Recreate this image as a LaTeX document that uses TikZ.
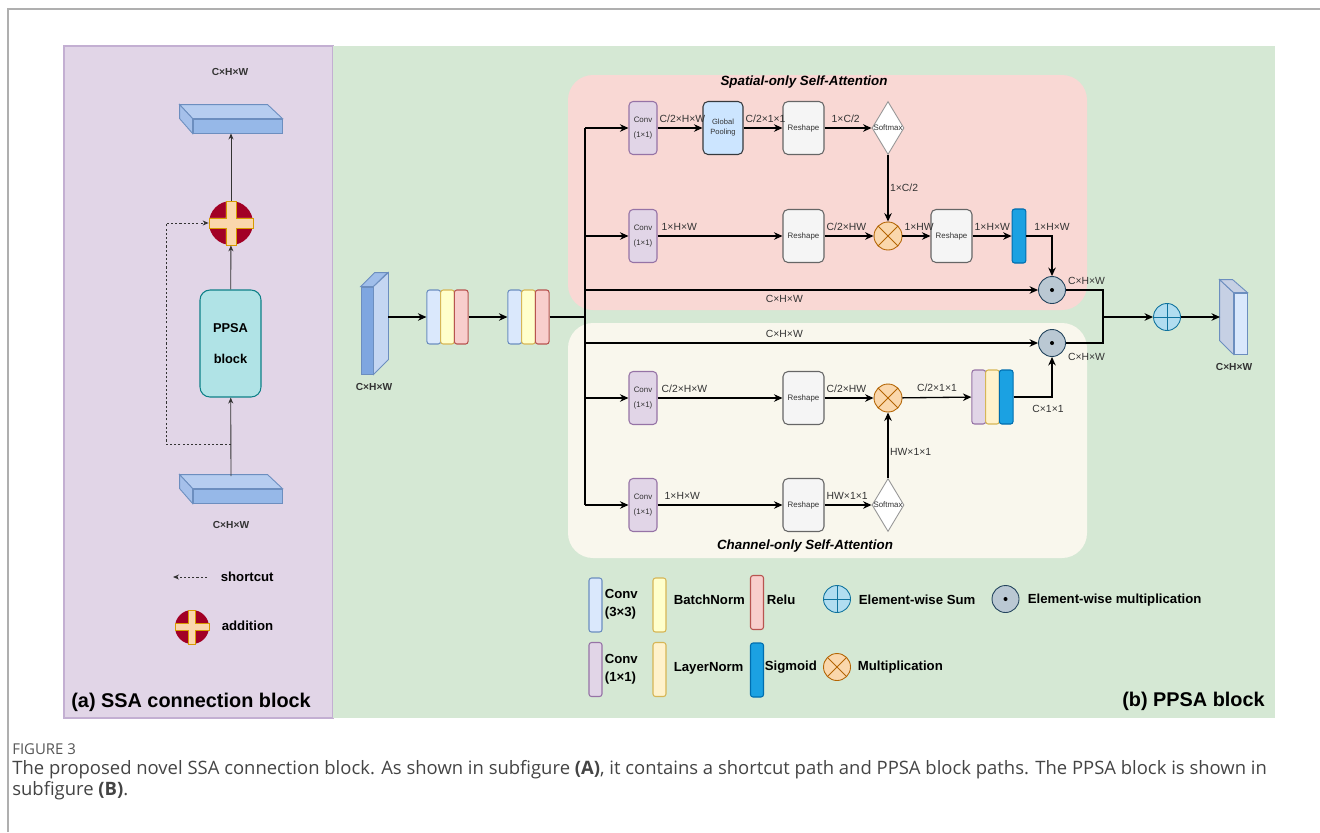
\documentclass[tikz,border=0pt]{standalone}
\usepackage{fontspec}
\setmainfont{Liberation Sans}
\newfontfamily\capfont{Open Sans}
\usetikzlibrary{arrows.meta, shapes.geometric}

\definecolor{Black}{RGB}{0,0,0}
\definecolor{Ink}{RGB}{51,51,51}
\definecolor{Frame}{RGB}{175,175,175}
\definecolor{PanelA}{RGB}{225,213,231}
\definecolor{PanelALine}{RGB}{195,175,210}
\definecolor{PanelB}{RGB}{213,232,212}
\definecolor{Spatial}{RGB}{249,216,212}
\definecolor{Channel}{RGB}{249,247,237}
\definecolor{ConvFill}{RGB}{225,213,231}
\definecolor{ConvLine}{RGB}{150,115,166}
\definecolor{CThreeFill}{RGB}{218,232,252}
\definecolor{CThreeLine}{RGB}{108,142,191}
\definecolor{BNFill}{RGB}{255,255,204}
\definecolor{BNLine}{RGB}{214,182,86}
\definecolor{ReluFill}{RGB}{248,206,204}
\definecolor{ReluLine}{RGB}{184,84,80}
\definecolor{LNFill}{RGB}{255,242,204}
\definecolor{SigFill}{RGB}{27,161,226}
\definecolor{SigLine}{RGB}{0,110,175}
\definecolor{PoolFill}{RGB}{204,229,255}
\definecolor{PoolLine}{RGB}{54,57,61}
\definecolor{ReshFill}{RGB}{245,245,245}
\definecolor{ReshLine}{RGB}{102,102,102}
\definecolor{MulFill}{RGB}{250,215,172}
\definecolor{MulLine}{RGB}{180,101,4}
\definecolor{EwmFill}{RGB}{186,200,211}
\definecolor{EwmLine}{RGB}{35,68,93}
\definecolor{SumFill}{RGB}{177,221,240}
\definecolor{SumLine}{RGB}{16,115,158}
\definecolor{AddRed}{RGB}{162,0,37}
\definecolor{CrossFill}{RGB}{250,215,172}
\definecolor{CrossLine}{RGB}{215,155,0}
\definecolor{PPSAFill}{RGB}{176,227,230}
\definecolor{PPSALine}{RGB}{14,128,136}
\definecolor{SlabFront}{RGB}{150,184,232}
\definecolor{SlabTop}{RGB}{182,205,240}
\definecolor{SlabSide}{RGB}{165,192,234}
\definecolor{SlabLine}{RGB}{108,142,191}
\definecolor{CubeFront}{RGB}{126,166,224}
\definecolor{CubeSide}{RGB}{196,214,242}
\definecolor{CubeTop}{RGB}{160,190,234}
\definecolor{OutSide}{RGB}{198,208,228}
\definecolor{SoftLine}{RGB}{150,150,150}
\definecolor{CapGray}{RGB}{85,85,85}
\definecolor{CapText}{RGB}{68,68,68}

% plus sign of the addition symbol: centre, half size (px)
\newcommand{\plusmark}[2]{%
	\filldraw[fill=CrossFill, draw=CrossLine, line width=0.5pt, shift={(#1)}, scale=#2]
	(-1,-0.23) -- (-0.23,-0.23) -- (-0.23,-1) -- (0.23,-1) -- (0.23,-0.23) -- (1,-0.23)
	-- (1,0.23) -- (0.23,0.23) -- (0.23,1) -- (-0.23,1) -- (-0.23,0.23) -- (-1,0.23) -- cycle;}

\begin{document}
\begin{tikzpicture}[x=0.2mm, y=-0.2mm,
	lbl/.style={font=\fontsize{5.9}{7}\selectfont, text=Ink, inner xsep=0.3mm, inner ysep=1mm},
	dimlbl/.style={font=\fontsize{5.8}{7}\selectfont\bfseries, text=Ink, inner sep=0},
	boxtxt/.style={font=\fontsize{4.5}{8.5}\selectfont, text=Ink, align=center, inner sep=0},
	convbox/.style={boxtxt, draw=ConvLine, fill=ConvFill, rounded corners=0.8mm, line width=0.6pt, minimum width=5.6mm, minimum height=10.6mm},
	poolbox/.style={boxtxt, font=\fontsize{4.3}{5.7}\selectfont, draw=PoolLine, fill=PoolFill, rounded corners=1mm, line width=0.6pt, minimum width=8mm, minimum height=10.6mm},
	reshbox/.style={boxtxt, draw=ReshLine, fill=ReshFill, rounded corners=1mm, line width=0.6pt, minimum width=8.2mm, minimum height=10.6mm},
	softbox/.style={diamond, draw=SoftLine, fill=white, line width=0.5pt, minimum width=6.4mm, minimum height=10.6mm, inner sep=0,
		label={[boxtxt, font=\fontsize{4.5}{5}\selectfont]center:Softmax}},
	bar/.style={rounded corners=0.5mm, line width=0.6pt, minimum width=2.74mm, minimum height=10.8mm, inner sep=0},
	cthree/.style={bar, draw=CThreeLine, fill=CThreeFill},
	bnbar/.style={bar, draw=BNLine, fill=BNFill},
	relubar/.style={bar, draw=ReluLine, fill=ReluFill},
	cone/.style={bar, draw=ConvLine, fill=ConvFill},
	lnbar/.style={bar, draw=BNLine, fill=LNFill},
	sigbar/.style={bar, draw=SigLine, fill=SigFill},
	mulnode/.style={circle, draw=MulLine, fill=MulFill, line width=0.5pt, minimum size=5.6mm, inner sep=0,
		path picture={\draw[MulLine, line width=0.5pt] (path picture bounding box.north west) -- (path picture bounding box.south east)
			(path picture bounding box.north east) -- (path picture bounding box.south west);}},
	ewmnode/.style={circle, draw=EwmLine, fill=EwmFill, line width=0.5pt, minimum size=5.4mm, inner sep=0,
		path picture={\fill[Black] (path picture bounding box.center) circle (0.4mm);}},
	sumnode/.style={circle, draw=SumLine, fill=SumFill, line width=0.5pt, minimum size=5.4mm, inner sep=0,
		path picture={\draw[SumLine, line width=0.5pt] (path picture bounding box.north) -- (path picture bounding box.south)
			(path picture bounding box.west) -- (path picture bounding box.east);}},
	addnode/.style={circle, fill=AddRed, inner sep=0},
	slab/.style={draw=SlabLine, line width=0.5pt, inner sep=0},
	arr/.style={-{Stealth[length=1.7mm, width=1.5mm]}, line width=0.75pt, draw=Black},
	link/.style={line width=0.75pt, draw=Black},
	trunkline/.style={line width=1.1pt, draw=Black},
	thinarr/.style={-{Stealth[length=1.2mm, width=1mm]}, line width=0.5pt, draw=Ink},
	dasharr/.style={thinarr, dash pattern=on 1.2pt off 1.2pt},
	legtxt/.style={font=\fontsize{7.5}{10.2}\selectfont\bfseries, text=Black, align=left, inner sep=0.3mm, anchor=west},
	paneltxt/.style={font=\fontsize{11.3}{13}\selectfont\bfseries, text=Black, inner sep=0},
	titletxt/.style={font=\fontsize{7.6}{9}\selectfont\bfseries\itshape, text=Black, inner sep=0},
	captxt/.style={font=\capfont\fontsize{10.5}{12}\selectfont, text=CapText, anchor=west, inner sep=0}]

	\useasboundingbox (0,0) rectangle (1320,832);

	% Page frame
	\draw[Frame, line width=0.8pt] (8,832) -- (8,9) -- (1320,9);

	% Panels
	\filldraw[fill=PanelA, draw=PanelALine, line width=0.6pt] (64,46) rectangle (333,718);
	\fill[PanelB] (333.3,46) rectangle (1275,718);
	\fill[Spatial, rounded corners=5mm] (568,75) rectangle (1087,310);
	\fill[Channel, rounded corners=5mm] (568,323) rectangle (1087,558);

	% (a) SSA connection block
	\node[dimlbl] (topdim) at (230,72) {C×H×W};
	\node[slab, fill=SlabFront, minimum width=17.8mm, minimum height=2.8mm] (topslab) at (237.5,126) {};
	\filldraw[fill=SlabTop, draw=SlabLine, line width=0.5pt] (topslab.north west) -- ++(-13,-14) -- ++(88,0) -- (topslab.north east) -- cycle;
	\filldraw[fill=SlabSide, draw=SlabLine, line width=0.5pt] (topslab.north west) -- ++(-13,-14) -- ++(0,14) -- (topslab.south west) -- cycle;

	\node[addnode, minimum size=8.8mm] (addc) at (231,223) {};
	\plusmark{addc}{22}

	\node[draw=PPSALine, fill=PPSAFill, rounded corners=2mm, line width=0.6pt, minimum width=12.2mm, minimum height=21.4mm,
		align=center, font=\fontsize{7.3}{17.6}\selectfont\bfseries] (ppsa) at (230.5,343.5) {PPSA\\block};

	\node[slab, fill=SlabFront, minimum width=17.8mm, minimum height=2.8mm] (botslab) at (237.5,496) {};
	\filldraw[fill=SlabTop, draw=SlabLine, line width=0.5pt] (botslab.north west) -- ++(-13,-14) -- ++(88,0) -- (botslab.north east) -- cycle;
	\filldraw[fill=SlabSide, draw=SlabLine, line width=0.5pt] (botslab.north west) -- ++(-13,-14) -- ++(0,14) -- (botslab.south west) -- cycle;
	\node[dimlbl] (botdim) at (231,525) {C×H×W};

	\coordinate (botslabtop) at (231,476);
	\coordinate (split) at (231,444);
	\draw[thinarr] (botslabtop) -- (ppsa);
	\draw[thinarr] (ppsa) -- (addc);
	\draw[thinarr] (addc) -- (addc |- topslab.south);
	\draw[dasharr] (split) -- ++(-65,0) |- (addc);

	% legend of (a)
	\coordinate (scA) at (207,577);
	\coordinate (scB) at (173,577);
	\draw[dasharr] (scA) -- (scB);
	\node[legtxt, font=\fontsize{7.5}{9}\selectfont\bfseries] (sctxt) at (219,577) {shortcut};
	\node[addnode, minimum size=6.8mm] (addleg) at (192,627) {};
	\plusmark{addleg}{17}
	\node[legtxt, font=\fontsize{7.5}{9}\selectfont\bfseries] (addtxt) at (220,626) {addition};

	\node[paneltxt, anchor=west] (atitle) at (71,702) {(a) SSA connection block};

	% (b) PPSA block: input and stem
	\node[slab, fill=CubeFront, minimum width=2.4mm, minimum height=17.4mm] (incube) at (367,330.5) {};
	\filldraw[fill=CubeTop, draw=SlabLine, line width=0.5pt] (incube.north west) -- ++(14,-14) -- ++(13,0) -- (incube.north east) -- cycle;
	\filldraw[fill=CubeSide, draw=SlabLine, line width=0.5pt] (incube.north east) -- ++(15,-14) -- ++(0,87) -- (incube.south east) -- cycle;
	\coordinate (incubeR) at (388,317);
	\node[dimlbl] (indim) at (374,387) {C×H×W};

	\node[cthree] (c1a) at (433.8,317) {};
	\node[bnbar] (c1b) at (447.5,317) {};
	\node[relubar] (c1c) at (461.2,317) {};
	\node[cthree] (c2a) at (514.8,317) {};
	\node[bnbar] (c2b) at (528.5,317) {};
	\node[relubar] (c2c) at (542.2,317) {};

	\coordinate (hub) at (585,317);
	\coordinate (trunkTop) at (585,128);
	\coordinate (trunkBot) at (585,505);
	\draw[arr] (incubeR) -- (c1a);
	\draw[arr] (c1c) -- (c2a);
	\draw[trunkline] (c2c) -- (hub);
	\draw[trunkline] (trunkTop) -- (trunkBot);

	% Spatial-only branch
	\node[titletxt] (stitle) at (804,82) {Spatial-only Self-Attention};
	\node[convbox] (sconva) at (643,128) {Conv\\(1×1)};
	\node[poolbox] (spool) at (723,128) {Global\\Pooling};
	\node[reshbox] (sresha) at (803.5,128) {Reshape};
	\node[softbox] (ssoft) at (888,128) {};
	\node[convbox] (sconvb) at (643,236) {Conv\\(1×1)};
	\node[reshbox] (sreshb) at (803.5,236) {Reshape};
	\node[mulnode] (smul) at (888,236) {};
	\node[reshbox] (sreshc) at (951.5,236) {Reshape};
	\node[sigbar] (ssig) at (1019,236) {};
	\node[ewmnode] (sewm) at (1052,290) {};

	\draw[arr] (trunkTop) -- (sconva);
	\draw[arr] (trunkTop |- sconvb) -- (sconvb);
	\draw[arr] (trunkTop |- sewm) -- node[lbl, below, pos=0.44] {C×H×W} (sewm);
	\draw[arr] (sconva) -- node[lbl, pos=0, anchor=south west] {C/2×H×W} (spool);
	\draw[arr] (spool) -- node[lbl, pos=0, anchor=south west] {C/2×1×1} (sresha);
	\draw[arr] (sresha) -- node[lbl, pos=0.45, above] {1×C/2} (ssoft);
	\draw[arr] (ssoft) -- node[lbl, midway, right] {1×C/2} (smul);
	\draw[arr] (sconvb) -- node[lbl, pos=0, anchor=south west, xshift=0.4mm] {1×H×W} (sreshb);
	\draw[arr] (sreshb) -- node[lbl, pos=0, anchor=south west] {C/2×HW} (smul);
	\draw[arr] (smul) -- node[lbl, pos=0, anchor=south west] {1×HW} (sreshc);
	\draw[arr] (sreshc) -- node[lbl, pos=0, anchor=south west] {1×H×W} (ssig);
	\draw[arr] (ssig) -| node[lbl, pos=0.5, above] {1×H×W} (sewm);

	% Channel-only branch
	\node[titletxt] (ctitle) at (805,546) {Channel-only Self-Attention};
	\node[ewmnode] (cewm) at (1052,343) {};
	\node[convbox] (cconva) at (643,398) {Conv\\(1×1)};
	\node[reshbox] (creshta) at (803.5,398) {Reshape};
	\node[mulnode] (cmul) at (888,398) {};
	\node[cone] (t1) at (978.8,397) {};
	\node[lnbar] (t2) at (992.5,397) {};
	\node[sigbar] (t3) at (1006.2,397) {};
	\node[convbox] (cconvb) at (643,505) {Conv\\(1×1)};
	\node[reshbox] (creshb) at (803.5,505) {Reshape};
	\node[softbox] (csoft) at (888,505) {};

	\draw[arr] (trunkTop |- cewm) -- node[lbl, above, pos=0.44] {C×H×W} (cewm);
	\draw[arr] (trunkTop |- cconva) -- (cconva);
	\draw[arr] (trunkBot) -- (cconvb);
	\draw[arr] (cconva) -- node[lbl, pos=0, anchor=south west, xshift=0.4mm] {C/2×H×W} (creshta);
	\draw[arr] (creshta) -- node[lbl, pos=0, anchor=south west] {C/2×HW} (cmul);
	\draw[arr] (cmul) -- node[lbl, midway, above] {C/2×1×1} (t1);
	\draw[arr] (t3) -| node[lbl, pos=0.5, below, xshift=-0.8mm, yshift=-0.6mm] {C×1×1} (cewm);
	\draw[arr] (cconvb) -- node[lbl, pos=0, anchor=south west, xshift=1mm] {1×H×W} (creshb);
	\draw[arr] (creshb) -- node[lbl, pos=0, anchor=south west] {HW×1×1} (csoft);
	\draw[arr] (csoft) -- node[lbl, pos=0.4, right] {HW×1×1} (cmul);

	% Merge and output
	\coordinate (merge) at (1103,317);
	\node[sumnode] (sum) at (1167,317) {};
	\node[slab, fill=CThreeFill, minimum width=2.6mm, minimum height=12.2mm] (outcube) at (1240.5,323.5) {};
	\filldraw[fill=OutSide, draw=SlabLine, line width=0.5pt] (outcube.north west) -- ++(-14,-13) -- ++(0,61) -- (outcube.south west) -- cycle;
	\filldraw[fill=OutSide, draw=SlabLine, line width=0.5pt] (outcube.north west) -- ++(-14,-13) -- ++(13,0) -- (outcube.north east) -- cycle;
	\coordinate (outcubeL) at (1220,317);
	\node[dimlbl] (outdim) at (1234,367) {C×H×W};

	\draw[link] (sewm) -| node[lbl, pos=0, anchor=south west] {C×H×W} (merge);
	\draw[link] (cewm) -| node[lbl, pos=0, anchor=north west, yshift=-1mm] {C×H×W} (merge);
	\draw[arr] (merge) -- (sum);
	\draw[arr] (sum) -- (outcubeL);

	% legend of (b)
	\node[cthree, minimum width=2.6mm] (lg1) at (595.5,605) {};
	\node[legtxt] (lgt1) at (603,604) {Conv\\(3×3)};
	\node[bnbar, minimum width=2.6mm] (lg2) at (659.5,605) {};
	\node[legtxt] (lgt2) at (672,600) {BatchNorm};
	\node[relubar, minimum width=2.6mm] (lg3) at (757,602.5) {};
	\node[legtxt] (lgt3) at (765,600) {Relu};
	\node[sumnode] (lg4) at (837,599) {};
	\node[legtxt] (lgt4) at (857,600) {Element-wise Sum};
	\node[ewmnode] (lg5) at (1005.5,599) {};
	\node[legtxt] (lgt5) at (1026,600) {Element-wise multiplication};
	\node[cone, minimum width=2.6mm] (lg6) at (595.5,669.5) {};
	\node[legtxt] (lgt6) at (603,669.5) {Conv\\(1×1)};
	\node[lnbar, minimum width=2.6mm] (lg7) at (659.5,669.5) {};
	\node[legtxt] (lgt7) at (672,668) {LayerNorm};
	\node[sigbar, minimum width=2.6mm] (lg8) at (757,670) {};
	\node[legtxt] (lgt8) at (763,667) {Sigmoid};
	\node[mulnode, minimum size=5.4mm] (lg9) at (837,667) {};
	\node[legtxt] (lgt9) at (856,667) {Multiplication};

	\node[paneltxt, anchor=east] (btitle) at (1265,701) {(b) PPSA block};

	% Caption
	\node[captxt, font=\capfont\fontsize{8.5}{10}\selectfont, text=CapGray] (cap0) at (12,749) {FIGURE 3};
	\node[captxt] (cap1) at (12,770) {The proposed novel SSA connection block. As shown in subfigure \textbf{(A)}, it contains a shortcut path and PPSA block paths. The PPSA block is shown in};
	\node[captxt] (cap2) at (12,791) {subfigure \textbf{(B)}.};

\end{tikzpicture}
\end{document}
